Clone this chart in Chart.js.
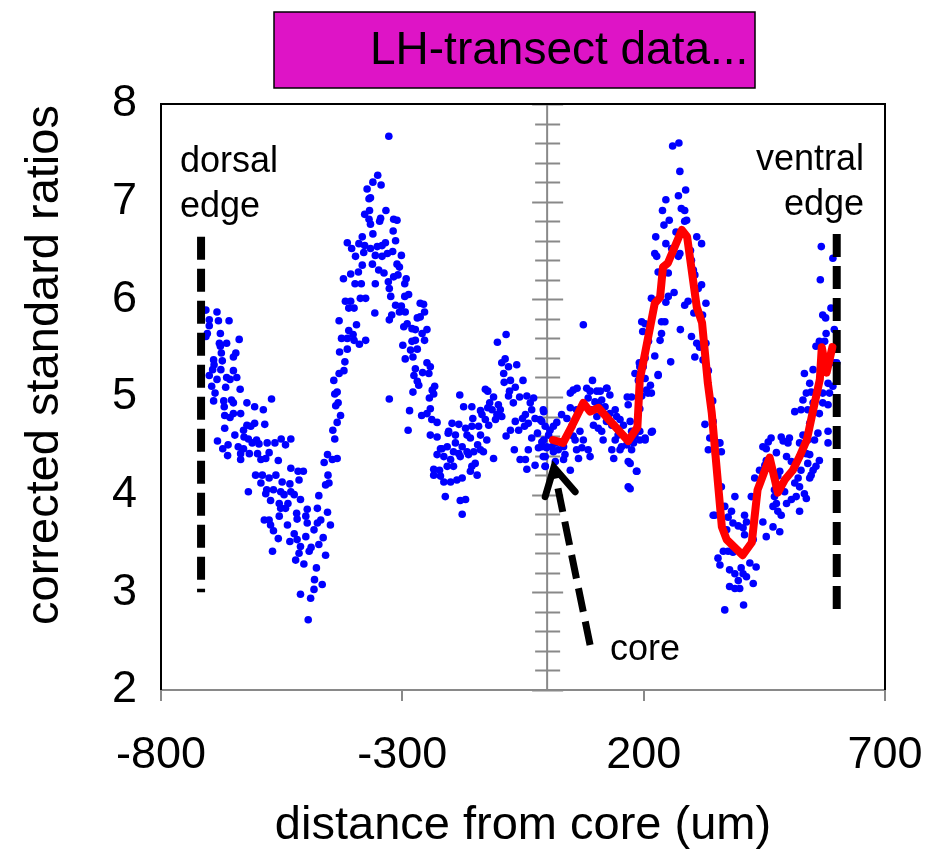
<!DOCTYPE html>
<html>
<head>
<meta charset="utf-8">
<script src="https://cdn.jsdelivr.net/npm/chart.js@4.4.1/dist/chart.umd.min.js"></script>
<style>
  html, body { margin: 0; padding: 0; background: #fff; }
  #wrap { width: 941px; height: 858px; }
</style>
</head>
<body>
<div id="wrap"><canvas id="chart"></canvas></div>
<script>
// scatter points [distance (um), ratio]
const dorsalDots = [
  [-707,5.89],[-684,5.87],[-700,5.79],[-659,5.78],[-681,5.78],[-700,5.73],[-704,5.65],[-707,5.62],[-677,5.65],[-638,5.59],
  [-679,5.55],[-664,5.55],[-677,5.52],[-675,5.45],[-645,5.45],[-650,5.41],[-691,5.38],[-673,5.37],[-690,5.33],[-693,5.28],
  [-676,5.28],[-650,5.27],[-700,5.22],[-684,5.18],[-664,5.20],[-643,5.20],[-657,5.18],[-695,5.11],[-666,5.10],[-636,5.08],
  [-688,5.04],[-691,4.96],[-670,4.96],[-654,4.97],[-571,4.98],[-669,4.90],[-650,4.94],[-622,4.94],[-606,4.90],[-588,4.87],
  [-668,4.81],[-650,4.83],[-635,4.83],[-657,4.79],[-622,4.71],[-606,4.73],[-585,4.72],[-629,4.66],[-614,4.70],[-668,4.68],
  [-647,4.61],[-628,4.59],[-619,4.57],[-602,4.56],[-683,4.55],[-661,4.51],[-672,4.47],[-640,4.49],[-629,4.47],[-611,4.53],
  [-597,4.52],[-580,4.53],[-564,4.53],[-551,4.57],[-531,4.57],[-542,4.51],[-635,4.42],[-617,4.42],[-600,4.42],[-576,4.43],
  [-662,4.40],[-635,4.36],[-593,4.36],[-583,4.37],[-557,4.35],[-531,4.27],[-516,4.24],[-505,4.24],[-604,4.20],[-590,4.20],
  [-562,4.20],[-576,4.17],[-593,4.12],[-549,4.13],[-533,4.11],[-514,4.15],[-619,4.03],[-581,4.05],[-567,4.05],[-552,4.03],
  [-531,4.03],[-583,4.01],[-545,4.00],[-524,4.00],[-511,3.95],[-573,3.94],[-555,3.91],[-537,3.91],[-552,3.86],[-542,3.86],
  [-497,3.85],[-519,3.81],[-476,3.86],[-455,3.82],[-555,3.78],[-586,3.74],[-576,3.74],[-500,3.78],[-518,3.75],[-469,3.74],
  [-573,3.69],[-538,3.69],[-497,3.71],[-476,3.71],[-449,3.69],[-567,3.63],[-524,3.60],[-483,3.64],[-557,3.55],[-533,3.52],
  [-518,3.54],[-500,3.57],[-464,3.56],[-569,3.42],[-511,3.47],[-489,3.46],[-473,3.49],[-514,3.40],[-493,3.42],[-459,3.38],
  [-521,3.33],[-504,3.29],[-478,3.25],[-482,3.13],[-466,3.08],[-483,3.03],[-511,2.98],[-490,2.94],[-495,2.72],
  [-455,4.41],[-462,4.33],[-445,4.36],[-435,4.37],[-454,4.20],[-459,4.10],[-452,4.12],[-473,3.99]
];
const leftPeakDots = [
  [-328,7.67],[-351,7.27],[-361,7.20],[-344,7.17],[-373,7.13],[-369,7.03],[-366,7.04],[-334,6.91],[-368,6.91],[-378,6.87],
  [-345,6.83],[-347,6.80],[-318,6.82],[-311,6.81],[-369,6.82],[-366,6.77],[-319,6.70],[-361,6.67],[-383,6.64],[-314,6.60],
  [-414,6.58],[-405,6.52],[-390,6.57],[-378,6.55],[-366,6.52],[-352,6.54],[-342,6.55],[-335,6.58],[-380,6.48],[-397,6.44],
  [-356,6.45],[-342,6.44],[-331,6.47],[-320,6.49],[-302,6.45],[-362,6.36],[-383,6.35],[-391,6.28],[-407,6.26],[-349,6.30],
  [-338,6.27],[-311,6.36],[-306,6.33],[-309,6.25],[-422,6.21],[-398,6.16],[-385,6.16],[-356,6.16],[-329,6.18],[-318,6.23],
  [-327,6.11],[-292,6.21],[-295,6.16],[-324,6.03],[-295,6.03],[-287,6.05],[-387,6.01],[-376,6.01],[-418,5.98],[-407,5.98],
  [-411,5.91],[-400,5.91],[-314,5.94],[-302,5.93],[-306,5.87],[-294,5.87],[-357,5.86],[-322,5.84],[-327,5.79],[-263,5.96],
  [-256,5.95],[-254,5.87],[-263,5.82],[-269,5.81],[-431,5.78],[-395,5.74],[-297,5.72],[-290,5.75],[-280,5.70],[-273,5.69],
  [-249,5.69],[-259,5.65],[-411,5.68],[-402,5.64],[-426,5.60],[-414,5.60],[-400,5.58],[-376,5.58],[-389,5.54],[-280,5.57],
  [-273,5.58],[-254,5.58],[-299,5.53],[-283,5.48],[-269,5.49],[-414,5.49],[-430,5.46],[-278,5.41],[-294,5.39],[-419,5.36],
  [-249,5.35],[-242,5.31],[-258,5.25],[-245,5.24],[-273,5.29],[-276,5.22],[-421,5.27],[-431,5.24],[-442,5.17],[-269,5.16],
  [-266,5.12],[-233,5.11],[-238,5.07],[-235,5.03],[-244,4.99],[-278,5.05],[-327,4.98],[-435,5.05],[-440,5.03],[-433,4.94],
  [-438,4.91],[-242,4.88],[-285,4.86],[-260,4.81],[-249,4.83],[-239,4.77],[-228,4.74],[-428,4.81],[-435,4.74],[-444,4.66],
  [-440,4.57],[-288,4.66],[-242,4.61],[-228,4.59],[-205,4.63],[-218,4.47]
];
const middleDots = [
  [-181,5.02],[-173,4.90],[-156,4.90],[-138,4.86],[-123,4.89],[-119,4.94],[-128,5.08],[-123,5.06],[-111,5.00],[-101,4.92],
  [-114,4.87],[-97,4.87],[-104,4.82],[-94,4.80],[-107,4.77],[-197,4.73],[-183,4.72],[-169,4.68],[-156,4.70],[-142,4.70],
  [-128,4.77],[-121,4.71],[-154,4.78],[-135,4.82],[-204,4.65],[-190,4.61],[-166,4.61],[-159,4.58],[-138,4.61],[-125,4.56],
  [-144,4.51],[-221,4.47],[-207,4.49],[-190,4.53],[-176,4.49],[-194,4.44],[-183,4.42],[-166,4.44],[-152,4.44],[-138,4.46],
  [-132,4.44],[-228,4.41],[-214,4.39],[-200,4.36],[-180,4.39],[-163,4.41],[-156,4.29],[-149,4.32],[-159,4.24],[-145,4.20],
  [-235,4.26],[-223,4.25],[-207,4.29],[-194,4.29],[-235,4.20],[-221,4.19],[-214,4.13],[-200,4.13],[-187,4.15],[-176,4.17],
  [-111,4.37],[-211,3.98],[-180,3.94],[-169,3.95],[-176,3.80],
  [-85,5.64],[-103,5.56],[-87,5.39],[-94,5.35],[-80,5.31],[-63,5.33],[-90,5.24],[-76,5.17],[-89,5.15],[-50,5.17],
  [-66,5.10],[-78,5.06],[-80,5.01],[-57,5.00],[-70,4.94],[-42,5.01],[-28,4.99],[-35,4.94],[-32,4.87],[-66,4.75],
  [-51,4.78],[-45,4.82],[-47,4.70],[-59,4.66],[-76,4.66],[-85,4.60],[-39,4.73],[-25,4.78],[-15,4.77],[-20,4.63],
  [-32,4.58],[-8,4.87],[-11,4.54],[-1,4.49],[-18,4.48],[-8,4.39],[-39,4.46],[-68,4.46],[-56,4.36],[-45,4.36],
  [-42,4.26],[-25,4.30],[-4,4.29]
];
const coreDots = [
  [-7,4.85],[-11,4.75],[-4,4.70],[6,4.66],[13,4.70],[20,4.74],[3,4.61],[-7,4.56],[-11,4.49],[-1,4.48],
  [10,4.49],[17,4.53],[-4,4.39],[13,4.44],[23,4.46],[34,4.49],[27,4.54],[37,4.41],[-4,4.29],[17,4.34],
  [34,4.36],[48,4.25],[30,4.82],[41,4.78],[51,4.70],[48,4.89],[54,5.07],[48,5.04],[61,4.87],[54,4.60],
  [58,4.56],[68,4.65],[75,4.56],[61,4.46],[65,4.37],[72,4.48],[85,4.46],[89,4.39],[82,5.09],[89,5.06],
  [94,5.17],[85,4.99],[103,5.06],[110,5.06],[113,4.97],[99,4.95],[106,4.92],[123,5.09],[130,5.02],[120,4.90],
  [92,4.87],[103,4.80],[120,4.82],[96,4.71],[106,4.68],[113,4.65],[123,4.75],[130,4.83],[141,4.87],[134,4.71],
  [144,4.80],[151,4.77],[158,4.71],[116,4.56],[141,4.56],[147,4.61],[134,4.46],[138,4.37],[151,4.46],[166,5.00],
  [168,4.92],[175,4.65],[172,4.56],[165,4.51],[154,4.49],[182,4.60],[178,4.54],[192,4.65],[192,4.56],[203,4.58],
  [168,4.34],[185,4.24],[168,4.08],[218,4.65],[209,5.04],[230,5.23],[192,5.31],[75,5.74],[62,5.09],[124,5.09]
];
const rightPeakDots = [
  [260,7.57],[273,7.60],[275,7.31],[287,7.12],[272,7.06],[246,7.02],[278,6.93],[285,6.91],[239,6.91],[253,6.81],
  [242,6.76],[289,6.81],[285,6.80],[267,6.69],[225,6.64],[246,6.57],[310,6.64],[320,6.57],[297,6.50],[275,6.47],
  [272,6.44],[223,6.47],[227,6.44],[258,6.52],[241,6.33],[230,6.28],[251,6.27],[299,6.40],[303,6.30],[306,6.25],
  [320,6.15],[313,6.11],[263,6.07],[251,6.03],[246,5.97],[216,6.01],[292,5.98],[285,5.94],[329,5.96],[304,5.86],
  [322,5.84],[196,5.77],[203,5.75],[198,5.67],[237,5.77],[244,5.77],[237,5.65],[234,5.58],[210,5.57],[276,5.69],
  [299,5.62],[310,5.55],[316,5.51],[329,5.55],[306,5.41],[323,5.38],[256,5.36],[191,5.35],[203,5.40],[223,5.42],
  [199,5.31],[189,5.17],[203,5.19],[182,5.24],[230,5.22],[214,5.12],[206,5.07],[216,5.04],[196,5.01],[175,5.00],
  [192,4.88],[172,4.75],[216,4.64],[182,4.64],[203,4.56],[179,4.53],[175,4.46],[186,4.24],[172,4.32],[172,4.06],
  [334,5.27],[343,4.96],[327,4.72],[344,4.75],[337,4.58],[356,4.53],[334,4.46],[349,4.42],[347,3.79],[354,3.35],
  [344,3.79]
];
const ventralDots = [
  [358,4.53],[361,4.44],[361,4.08],[389,3.98],[368,3.88],[382,3.83],[375,3.77],[385,3.71],[396,3.68],[409,3.79],
  [413,3.72],[406,3.66],[409,3.59],[427,3.54],[372,3.64],[365,3.42],[375,3.42],[385,3.41],[358,3.28],[378,3.23],
  [389,3.19],[402,3.25],[406,3.19],[420,3.30],[433,3.26],[413,3.16],[427,3.09],[396,3.12],[378,3.06],[389,3.04],
  [399,3.04],[368,2.82],[407,2.87],[447,3.72],[468,3.67],[454,3.57],[482,3.62],[430,4.17],[440,4.25],[451,4.30],
  [461,4.27],[454,4.35],[447,4.49],[454,4.47],[458,4.54],[464,4.58],[475,4.43],[485,4.59],[489,4.55],[499,4.53],
  [502,4.58],[506,4.34],[496,4.39],[482,4.24],[478,4.19],[471,4.05],[471,3.98],[475,3.91],[478,3.83],[485,3.79],
  [468,3.88],[485,4.08],[492,4.03],[496,3.91],[506,3.95],[513,4.12],[523,4.08],[520,4.17],[526,4.25],[516,3.98],
  [533,4.01],[537,3.96],[523,3.83],[544,4.17],[547,4.20],[551,4.25],[557,4.29],[540,4.32],[537,4.42],[544,4.41],
  [523,4.53],[530,4.61],[540,4.56],[554,4.56],[561,4.63],[564,4.35],[582,4.65],[582,4.53],[513,4.85],[530,4.97],
  [526,4.87],[540,4.87],[537,5.04],[533,5.24],[544,5.14],[547,5.05],[551,4.94],[564,4.83],[571,4.94],[582,4.92],
  [544,4.73],[571,5.04],[582,5.14],[585,5.04],[592,5.11],[595,5.35],[585,5.38],[551,5.28],[557,5.52],[564,5.57],
  [575,5.57],[578,5.65],[577,5.81],[571,5.84],[588,5.91],[595,5.69],[566,6.20],[568,6.54],[592,6.42],[600,5.35],
  [423,3.98]
];

// red running line
const redX = [12, 33, 51, 75, 89, 106, 124, 168, 187, 192, 199, 223, 234, 240, 250, 279, 290, 310, 321, 333,
  341, 362, 372, 405, 424, 436, 461, 478, 492, 509, 523, 538, 550, 565, 569, 579, 591];
const redY = [4.56, 4.53, 4.70, 4.94, 4.85, 4.89, 4.79, 4.55, 4.69, 5.18, 5.35, 5.96, 6.02, 6.33, 6.37, 6.71, 6.64, 5.92, 5.76, 5.14,
  4.84, 3.67, 3.54, 3.38, 3.51, 4.05, 4.38, 4.02, 4.15, 4.25, 4.39, 4.56, 4.84, 5.18, 5.51, 5.25, 5.51];

// edge markers and core arrow
const dorsalEdgeX = [-717, -717];
const dorsalEdgeY = [6.64, 3.0];
const ventralEdgeX = [600, 600];
const ventralEdgeY = [6.67, 2.82];
const arrowShaftX = [89, 16];
const arrowShaftY = [2.46, 4.22];
const arrowHeadX = [-4, 14, 58];
const arrowHeadY = [3.98, 4.28, 4.03];

const xTicks = [-800, -300, 200, 700];
const yTicks = [2, 3, 4, 5, 6, 7, 8];

const toXY = arr => arr.map(p => ({ x: p[0], y: p[1] }));
const zipXY = (xs, ys) => xs.map((x, i) => ({ x: x, y: ys[i] }));

const allDots = [].concat(dorsalDots, leftPeakDots, middleDots, coreDots, rightPeakDots, ventralDots);

const FONT = "'Liberation Sans', Arial, sans-serif";

const decorPlugin = {
  id: 'decor',
  beforeDatasetsDraw(chart) {
    const { ctx, chartArea, scales } = chart;
    const x0 = scales.x.getPixelForValue(0);
    ctx.save();
    ctx.strokeStyle = '#898989';
    ctx.lineWidth = 2;
    ctx.beginPath();
    ctx.moveTo(x0, chartArea.top);
    ctx.lineTo(x0, chartArea.bottom);
    // minor ticks every 0.2, major every 1
    for (let i = 0; i <= 30; i++) {
      const v = 2 + i * 0.2;
      const py = Math.round(scales.y.getPixelForValue(v)) + 0.5;
      const major = i % 5 === 0;
      ctx.moveTo(x0 - (major ? 15 : 12), py);
      ctx.lineTo(x0 + (major ? 16 : 13), py);
    }
    ctx.stroke();
    ctx.restore();
  },
  afterDraw(chart) {
    const { ctx, chartArea } = chart;
    ctx.save();
    // plot box (top, left, right)
    ctx.strokeStyle = '#000';
    ctx.lineWidth = 2;
    ctx.beginPath();
    ctx.moveTo(chartArea.left, chartArea.bottom);
    ctx.lineTo(chartArea.left, chartArea.top);
    ctx.lineTo(chartArea.right, chartArea.top);
    ctx.lineTo(chartArea.right, chartArea.bottom);
    ctx.stroke();

    // title box
    ctx.fillStyle = '#DE14C6';
    ctx.fillRect(274, 12, 481, 76);
    ctx.lineWidth = 1.5;
    ctx.strokeRect(274, 12, 481, 76);
    ctx.fillStyle = '#000';
    ctx.font = '46px ' + FONT;
    ctx.textBaseline = 'middle';
    ctx.textAlign = 'left';
    ctx.fillText('LH-transect data...', 370, 51);

    // annotations
    ctx.font = '36px ' + FONT;
    ctx.textBaseline = 'alphabetic';
    ctx.fillText('dorsal', 180, 172);
    ctx.fillText('edge', 180, 217);
    ctx.fillText('core', 610, 660);
    ctx.textAlign = 'right';
    ctx.fillText('ventral', 864, 170);
    ctx.fillText('edge', 864, 215);

    // y axis title
    ctx.translate(45, 365);
    ctx.rotate(-Math.PI / 2);
    ctx.textAlign = 'center';
    ctx.textBaseline = 'middle';
    ctx.font = '47px ' + FONT;
    ctx.fillText('corrected standard ratios', 0, 0);
    ctx.restore();
  }
};

new Chart(document.getElementById('chart'), {
  type: 'scatter',
  data: {
    datasets: [
      {
        label: 'running mean',
        data: zipXY(redX, redY),
        showLine: true,
        borderColor: '#FF0000',
        borderWidth: 8,
        pointRadius: 0,
        tension: 0,
        borderJoinStyle: 'round',
        borderCapStyle: 'round',
        order: 0
      },
      {
        label: 'arrow head',
        data: zipXY(arrowHeadX, arrowHeadY),
        showLine: true,
        borderColor: '#000',
        borderWidth: 7,
        borderCapStyle: 'round',
        pointRadius: 0,
        order: 1
      },
      {
        label: 'arrow shaft',
        data: zipXY(arrowShaftX, arrowShaftY),
        showLine: true,
        borderColor: '#000',
        borderWidth: 7,
        borderDash: [24, 10],
        pointRadius: 0,
        order: 1
      },
      {
        label: 'dorsal edge',
        data: zipXY(dorsalEdgeX, dorsalEdgeY),
        showLine: true,
        borderColor: '#000',
        borderWidth: 8,
        borderDash: [23, 9],
        borderCapStyle: 'butt',
        pointRadius: 0,
        order: 2
      },
      {
        label: 'ventral edge',
        data: zipXY(ventralEdgeX, ventralEdgeY),
        showLine: true,
        borderColor: '#000',
        borderWidth: 8,
        borderDash: [23, 9],
        borderCapStyle: 'butt',
        pointRadius: 0,
        order: 2
      },
      {
        label: 'ratios',
        data: toXY(allDots),
        backgroundColor: '#0000FF',
        borderWidth: 0,
        pointRadius: 3.8,
        order: 5
      }
    ]
  },
  options: {
    responsive: true,
    maintainAspectRatio: false,
    animation: false,
    layout: { autoPadding: false, padding: { top: 104, right: 56, left: 0, bottom: 0 } },
    plugins: { legend: { display: false }, tooltip: { enabled: false } },
    scales: {
      x: {
        type: 'linear',
        min: -800,
        max: 700,
        afterBuildTicks: s => { s.ticks = xTicks.map(v => ({ value: v })); },
        afterFit: s => { s.height = 168; s.paddingLeft = 0; s.paddingRight = 0; },
        grid: { drawOnChartArea: false, drawTicks: true, tickLength: 11, color: '#898989', lineWidth: 2 },
        border: { color: '#898989', width: 2 },
        ticks: { color: '#000', font: { family: FONT, size: 45 }, padding: 28, maxRotation: 0 },
        title: {
          display: true,
          text: 'distance from core (um)',
          color: '#000',
          font: { family: FONT, size: 47 },
          padding: { top: 0, bottom: 4 }
        }
      },
      y: {
        type: 'linear',
        min: 2,
        max: 8,
        afterBuildTicks: s => { s.ticks = yTicks.map(v => ({ value: v })); },
        afterFit: s => { s.width = 161; s.paddingTop = 0; s.paddingBottom = 0; },
        grid: { drawOnChartArea: false, drawTicks: false },
        border: { display: false },
        ticks: { color: '#000', font: { family: FONT, size: 45 }, padding: 24 }
      }
    }
  },
  plugins: [decorPlugin]
});
</script>
</body>
</html>
